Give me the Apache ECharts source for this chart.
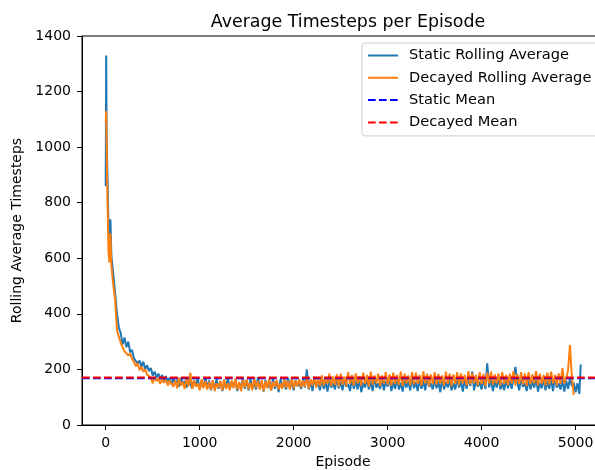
<!DOCTYPE html>
<html>
<head>
<meta charset="utf-8">
<script src="https://cdn.jsdelivr.net/npm/echarts@6/dist/echarts.min.js"></script>
<style>
html,body{margin:0;padding:0;background:#fff;}
#chart{width:595px;height:470px;}
</style>
</head>
<body>
<div id="chart"></div>
<script>
const titleText = "Average Timesteps per Episode";
const xName = "Episode";
const yName = "Rolling Average Timesteps";
const xTicks = [0, 1000, 2000, 3000, 4000, 5000];
const yTicks = [0, 200, 400, 600, 800, 1000, 1200, 1400];
const seriesNames = ["Static Rolling Average", "Decayed Rolling Average", "Static Mean", "Decayed Mean"];

const episodes = [0,5,10,15,20,25,30,40,50,60,75,
100,120,140,160,180,200,220,240,260,280,
300,320,340,360,380,400,420,440,460,480,
500,520,540,560,580,600,620,640,660,680,
700,720,740,760,780,800,820,840,860,880,
900,920,940,960,980,1000,1020,1040,1060,1080,
1100,1120,1140,1160,1180,1200,1220,1240,1260,1280,
1300,1320,1340,1360,1380,1400,1420,1440,1460,1480,
1500,1520,1540,1560,1580,1600,1620,1640,1660,1680,
1700,1720,1740,1760,1780,1800,1820,1840,1860,1880,
1900,1920,1940,1960,1980,2000,2020,2040,2060,2080,
2100,2120,2140,2160,2180,2200,2220,2240,2260,2280,
2300,2320,2340,2360,2380,2400,2420,2440,2460,2480,
2500,2520,2540,2560,2580,2600,2620,2640,2660,2680,
2700,2720,2740,2760,2780,2800,2820,2840,2860,2880,
2900,2920,2940,2960,2980,3000,3020,3040,3060,3080,
3100,3120,3140,3160,3180,3200,3220,3240,3260,3280,
3300,3320,3340,3360,3380,3400,3420,3440,3460,3480,
3500,3520,3540,3560,3580,3600,3620,3640,3660,3680,
3700,3720,3740,3760,3780,3800,3820,3840,3860,3880,
3900,3920,3940,3960,3980,4000,4020,4040,4060,4080,
4100,4120,4140,4160,4180,4200,4220,4240,4260,4280,
4300,4320,4340,4360,4380,4400,4420,4440,4460,4480,
4500,4520,4540,4560,4580,4600,4620,4640,4660,4680,
4700,4720,4740,4760,4780,4800,4820,4840,4860,4880,
4900,4920,4940,4960,4980,5000,5020,5040,5055];

const staticRolling = [860,1330,1010,950,880,790,700,640,740,610,560,
475,400,350,330,290,315,280,300,262,270,
240,235,222,232,210,228,200,215,195,205,
178,192,170,185,165,180,160,176,158,170,
145,168,150,162,138,170,148,158,135,165,
150,130,162,140,168,128,155,138,172,132,
160,125,150,138,165,130,158,122,148,135,
168,128,155,140,160,122,150,135,170,130,
158,125,165,135,148,128,172,132,155,120,
162,135,150,125,168,130,158,118,165,138,
150,128,170,132,155,125,162,140,148,130,
165,135,200,128,158,122,170,138,152,125,
168,130,155,120,162,135,150,128,172,132,
158,125,165,138,148,122,170,130,160,128,
165,118,152,135,168,128,158,122,172,135,
150,130,165,125,158,138,170,122,155,130,
168,128,152,120,162,135,158,125,170,132,
155,122,168,130,160,125,172,138,150,128,
165,132,158,118,170,128,155,135,162,125,
150,128,168,135,158,120,165,130,172,140,
192,125,160,138,155,128,168,130,222,135,
168,122,158,135,170,128,152,125,165,132,
160,130,172,209,155,125,168,138,150,122,
165,128,158,135,170,120,152,132,168,125,
158,130,165,122,172,135,150,128,162,120,
160,130,168,140,152,118,150,112,218];

const decayedRolling = [1090,1130,1000,880,790,700,620,585,690,575,520,
450,340,318,295,290,265,272,250,258,238,
228,212,222,198,210,192,200,182,188,170,
150,172,158,168,148,165,152,162,142,160,
165,138,160,132,170,142,155,130,168,140,
188,130,160,138,150,125,165,132,158,128,
155,128,162,122,150,135,158,125,165,130,
150,125,160,132,168,128,155,122,162,135,
165,130,152,125,170,135,158,128,162,122,
158,132,168,125,155,138,162,128,150,130,
168,135,158,128,172,132,160,140,165,135,
160,138,172,132,165,142,175,135,168,140,
178,142,170,148,185,140,175,145,182,138,
185,145,175,140,190,148,180,142,186,150,
175,142,188,148,180,138,192,145,178,150,
185,140,178,150,190,145,182,142,188,148,
180,145,192,140,185,150,178,143,190,146,
188,148,180,142,193,150,185,140,182,147,
190,145,184,150,178,142,192,148,185,140,
182,148,190,144,186,150,180,142,194,146,
186,150,180,143,190,147,184,140,188,150,
192,145,182,150,186,142,190,148,180,144,
185,150,194,142,182,148,190,145,186,140,
190,146,182,150,194,143,185,148,180,142,
188,145,192,150,180,142,186,148,205,150,
170,195,288,180,108,null,null,null,null];

const staticMean = 168;
const decayedMean = 171;

const xMin = -252.5, xMax = 5302.5;
const font = "DejaVu Sans";

const pairs = (vals) => episodes.map((e, i) => [e, vals[i]]).filter(p => p[1] !== null);
const plain = (v) => String(v);

const chart = echarts.init(document.getElementById('chart'), null, {renderer: 'canvas'});
chart.setOption({
  animation: false,
  backgroundColor: '#ffffff',
  title: {
    text: titleText, left: 343, top: 9, textAlign: 'center',
    textStyle: {fontFamily: font, fontSize: 17.4, fontWeight: 'normal', color: '#000'}
  },
  grid: {left: 82, top: 36, width: 522, height: 389, containLabel: false, outerBoundsMode: 'none',
    show: true, borderColor: '#000', borderWidth: 1, backgroundColor: 'transparent'},
  legend: {
    orient: 'vertical', left: 362, top: 43,
    padding: [5, 24, 6, 5],
    itemWidth: 30, itemHeight: 14, itemGap: 7.3,
    borderColor: '#cccccc', borderWidth: 1, borderRadius: 3, backgroundColor: '#ffffff',
    itemStyle: {opacity: 0},
    data: seriesNames,
    textStyle: {fontFamily: font, fontSize: 14.6, lineHeight: 14, color: '#000', padding: [0, 0, 0, 6]}
  },
  xAxis: {
    type: 'value', min: xMin, max: xMax,
    name: xName, nameLocation: 'middle', nameGap: 30,
    nameTextStyle: {fontFamily: font, fontSize: 14, color: '#000'},
    axisLine: {show: true, onZero: false, lineStyle: {color: '#000', width: 1}},
    axisTick: {show: true, length: 5, lineStyle: {color: '#000'}, customValues: xTicks},
    axisLabel: {fontFamily: font, fontSize: 14, color: '#000', margin: 11, customValues: xTicks, formatter: plain},
    splitLine: {show: false}
  },
  yAxis: {
    type: 'value', min: 0, max: 1400, interval: 200,
    name: yName, nameLocation: 'middle', nameGap: 50,
    nameTextStyle: {fontFamily: font, fontSize: 14, color: '#000'},
    axisLine: {show: true, onZero: false, lineStyle: {color: '#000', width: 1}},
    axisTick: {show: true, length: 5, lineStyle: {color: '#000'}},
    axisLabel: {fontFamily: font, fontSize: 14, color: '#000', margin: 11, formatter: plain},
    splitLine: {show: false}
  },
  series: [
    {name: seriesNames[0], type: 'line', data: pairs(staticRolling), symbol: 'none', lineStyle: {color: '#1f77b4', width: 2}, itemStyle: {color: '#1f77b4'}, z: 2},
    {name: seriesNames[1], type: 'line', data: pairs(decayedRolling), symbol: 'none', lineStyle: {color: '#ff7f0e', width: 2}, itemStyle: {color: '#ff7f0e'}, z: 3},
    {name: seriesNames[2], type: 'line', data: [[xMin, staticMean], [xMax, staticMean]], symbol: 'none', lineStyle: {color: '#0000ff', width: 2, type: [7.7, 3.3]}, itemStyle: {color: '#0000ff'}, z: 4},
    {name: seriesNames[3], type: 'line', data: [[xMin, decayedMean], [xMax, decayedMean]], symbol: 'none', lineStyle: {color: '#ff0000', width: 2, type: [7.7, 3.3]}, itemStyle: {color: '#ff0000'}, z: 5}
  ]
});
</script>
</body>
</html>
